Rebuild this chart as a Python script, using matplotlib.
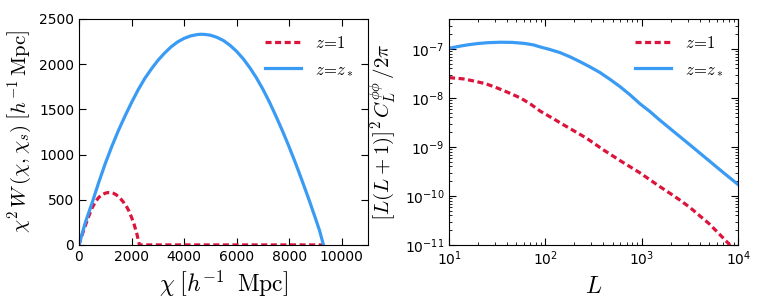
import numpy as np
import matplotlib
matplotlib.use('Agg')
import matplotlib.pyplot as plt

# Ядро линзирования, chi^2 W(chi, chi_s)
chi_z1 = [0, 125, 250, 375, 500, 625, 750, 875, 1000, 1100, 1200, 1300, 1400,
          1500, 1600, 1700, 1800, 1900, 2000, 2100, 2200, 2300, 5000, 9300]
w_z1 = [0, 115, 220, 320, 410, 475, 525, 555, 572, 579, 579, 572, 558,
        535, 505, 470, 430, 375, 305, 225, 125, 0, 0, 0]
chi_zs = [0, 250, 500, 750, 1000, 1250, 1500, 1750, 2000, 2250, 2500, 2750,
          3000, 3250, 3500, 3750, 4000, 4250, 4500, 4650, 4800, 5000, 5250,
          5500, 5750, 6000, 6250, 6500, 6750, 7000, 7250, 7500, 7750, 8000,
          8250, 8500, 8750, 9000, 9150, 9300]
w_zs = [0, 255, 465, 690, 900, 1090, 1265, 1425, 1575, 1715, 1840, 1945,
        2040, 2120, 2190, 2245, 2285, 2312, 2327, 2330, 2328, 2320, 2296,
        2260, 2207, 2140, 2058, 1960, 1848, 1720, 1577, 1420, 1255, 1080,
        895, 700, 500, 290, 160, 0]

# Спектр мощности линзирующего потенциала
L_zs = [10, 13, 16, 20, 25, 34, 45, 60, 75, 88, 110, 142, 180, 228, 290,
        368, 460, 594, 750, 957, 1211, 1500, 2000, 3160, 5000, 7000, 10000]
cl_zs = [1.03e-7, 1.14e-7, 1.22e-7, 1.29e-7, 1.34e-7, 1.37e-7, 1.36e-7,
         1.30e-7, 1.21e-7, 1.10e-7, 9.8e-8, 8.4e-8, 6.9e-8, 5.5e-8, 4.3e-8,
         3.3e-8, 2.45e-8, 1.70e-8, 1.17e-8, 7.6e-9, 5.3e-9, 3.67e-9, 2.3e-9,
         1.1e-9, 5.2e-10, 3.0e-10, 1.7e-10]
L_z1 = [10, 14, 18, 24, 31, 40, 55, 70, 88, 120, 153, 200, 268, 400, 600,
        946, 1500, 2000, 2490, 3160, 5000, 6500, 7890, 10000]
cl_z1 = [2.6e-8, 2.45e-8, 2.22e-8, 1.95e-8, 1.62e-8, 1.32e-8, 1.0e-8, 7.5e-9,
         5.4e-9, 3.8e-9, 2.85e-9, 2.1e-9, 1.5e-9, 8.7e-10, 5.2e-10, 3.0e-10,
         1.6e-10, 1.1e-10, 8.2e-11, 5.8e-11, 2.7e-11, 1.6e-11, 1.08e-11, 6.3e-12]

red = '#DC143C'
blue = '#3A9BF5'

plt.rcParams['mathtext.fontset'] = 'cm'
plt.rcParams['xtick.direction'] = 'in'
plt.rcParams['ytick.direction'] = 'in'
plt.rcParams['xtick.top'] = True
plt.rcParams['ytick.right'] = True
plt.rcParams['xtick.labelsize'] = 10
plt.rcParams['ytick.labelsize'] = 10

fig = plt.figure(figsize=(7.63, 3.05), dpi=100)
ax1 = fig.add_axes([0.1035, 0.197, 0.379, 0.741])
ax2 = fig.add_axes([0.5885, 0.197, 0.379, 0.741])

# 1. Ядро
ax1.plot(chi_z1, w_z1, '--', color=red, lw=2.3, dashes=(1.9, 1.1), label=r'$z\!=\!1$')
ax1.plot(chi_zs, w_zs, '-', color=blue, lw=2.3, label=r'$z\!=\!z_*$')
ax1.set_xlim(0, 11000)
ax1.set_ylim(0, 2500)
ax1.set_xticks([0, 2000, 4000, 6000, 8000, 10000])
ax1.set_xlabel(r'$\chi\;\left[h^{-1}\;\;\mathrm{Mpc}\right]$', fontsize=17)
ax1.set_ylabel(r'$\chi^2\,W\,(\chi,\chi_s)\;\left[h^{-1}\,\mathrm{Mpc}\right]$', fontsize=15)
ax1.legend(loc='upper right', frameon=False, fontsize=12, handlelength=2.2)
ax1.tick_params(length=5, width=0.8)

# 2. Спектр
ax2.loglog(L_z1, cl_z1, '--', color=red, lw=2.3, dashes=(1.9, 1.1), label=r'$z\!=\!1$')
ax2.loglog(L_zs, cl_zs, '-', color=blue, lw=2.3, label=r'$z\!=\!z_*$')
ax2.set_xlim(10, 1e4)
ax2.set_ylim(1e-11, 4.1e-7)
ax2.set_xlabel(r'$L$', fontsize=17)
ax2.set_ylabel(r'$\left[L(L+1)\right]^2\,C_L^{\phi\phi}\,/2\pi$', fontsize=15)
ax2.legend(loc='upper right', frameon=False, fontsize=12, handlelength=2.2)
ax2.tick_params(which='major', length=5, width=0.8)
ax2.tick_params(which='minor', length=2.5, width=0.6)

fig.savefig('out.png', dpi=100)
